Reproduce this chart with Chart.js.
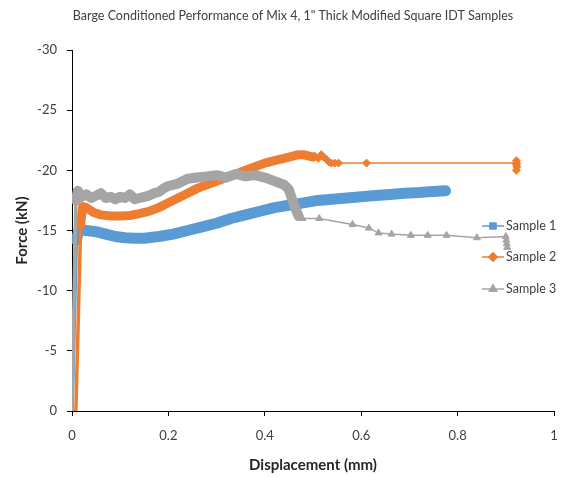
<!DOCTYPE html>
<html>
<head>
<meta charset="utf-8">
<title>Barge Conditioned Performance of Mix 4</title>
<script src="https://cdn.jsdelivr.net/npm/chart.js@4.4.1/dist/chart.umd.min.js"></script>
<style>
  body { margin: 0; background: #fff; }
  canvas { display: block; }
</style>
</head>
<body>
<canvas id="graphCanvas" width="571" height="477"></canvas>
<script>
// chart data (displacement in mm, force in kN)
let chartTitle = 'Barge Conditioned Performance of Mix 4, 1" Thick Modified Square IDT Samples';
let seriesNames = ['Sample 1', 'Sample 2', 'Sample 3'];

let s1X = [0, 0.004, 0.009, 0.015, 0.03, 0.05, 0.07, 0.09, 0.11, 0.13, 0.15, 0.18, 0.21, 0.24, 0.27, 0.3, 0.33, 0.36, 0.39, 0.42, 0.45, 0.48, 0.51, 0.54, 0.57, 0.6, 0.63, 0.66, 0.69, 0.72, 0.75, 0.775];
let s1Y = [0, -6, -14.2, -15.1, -15.0, -14.9, -14.7, -14.5, -14.4, -14.35, -14.35, -14.5, -14.7, -15.0, -15.3, -15.6, -16.0, -16.3, -16.6, -16.9, -17.1, -17.3, -17.5, -17.6, -17.7, -17.8, -17.9, -18.0, -18.1, -18.15, -18.25, -18.3];

let s2BandX = [0.008, 0.012, 0.018, 0.022, 0.03, 0.045, 0.06, 0.08, 0.1, 0.12, 0.14, 0.16, 0.18, 0.2, 0.22, 0.24, 0.26, 0.28, 0.3, 0.32, 0.34, 0.36, 0.38, 0.4, 0.42, 0.44, 0.46, 0.47, 0.48, 0.49, 0.5];
let s2BandY = [0, -6, -15.5, -17.0, -16.9, -16.5, -16.3, -16.2, -16.2, -16.25, -16.4, -16.6, -16.9, -17.3, -17.7, -18.1, -18.5, -18.8, -19.1, -19.4, -19.7, -20.0, -20.3, -20.6, -20.8, -21.0, -21.2, -21.3, -21.3, -21.2, -21.1];
let s2MarkX = [0.503, 0.511, 0.517, 0.522, 0.528, 0.533, 0.538, 0.545, 0.553, 0.611, 0.922, 0.922, 0.923, 0.922, 0.922];
let s2MarkY = [-21.2, -21.0, -21.3, -21.1, -20.9, -20.7, -20.6, -20.6, -20.6, -20.6, -20.6, -20.8, -20.3, -20.0, -20.5];

let s3BandX = [0, 0.004, 0.008, 0.012, 0.02, 0.03, 0.04, 0.05, 0.06, 0.07, 0.08, 0.09, 0.1, 0.11, 0.12, 0.13, 0.14, 0.15, 0.16, 0.17, 0.18, 0.19, 0.2, 0.22, 0.24, 0.26, 0.28, 0.3, 0.32, 0.34, 0.36, 0.38, 0.4, 0.42, 0.44, 0.45, 0.455, 0.462, 0.47];
let s3BandY = [0, -9, -17.5, -18.3, -17.8, -18.0, -17.7, -17.9, -18.1, -17.7, -17.8, -17.6, -17.8, -17.7, -18.0, -17.6, -17.7, -17.8, -17.9, -18.1, -18.2, -18.5, -18.7, -18.9, -19.3, -19.4, -19.5, -19.6, -19.4, -19.7, -19.5, -19.6, -19.4, -19.1, -18.8, -18.4, -17.8, -17.0, -16.2];
let s3MarkX = [0.478, 0.513, 0.582, 0.616, 0.636, 0.663, 0.703, 0.738, 0.777, 0.84, 0.9, 0.901, 0.902, 0.903];
let s3MarkY = [-16.0, -16.0, -15.5, -15.2, -14.8, -14.7, -14.6, -14.6, -14.6, -14.4, -14.5, -14.2, -13.9, -13.6];

let xTicks = [0, 0.2, 0.4, 0.6, 0.8, 1];
let yTicks = [0, -5, -10, -15, -20, -25, -30];

let colors = ['#5B9BD5', '#ED7D31', '#A5A5A5'];
let pointStyles = ['rect', 'rectRot', 'triangle'];

function toPoints(xs, ys) {
  let pts = [];
  for (let i in xs) {
    pts.push({ x: xs[i], y: ys[i] });
  }
  return pts;
}

// band = dense noisy part drawn thick, marks = sparse points with markers
function makeDataset(idx, bandX, bandY, markX, markY, bandWidth) {
  let n = bandX.length;
  return {
    label: seriesNames[idx],
    data: toPoints(bandX.concat(markX), bandY.concat(markY)),
    borderColor: colors[idx],
    backgroundColor: colors[idx],
    pointStyle: pointStyles[idx],
    pointRadius: function(ctx) { return ctx.dataIndex < n ? 0 : 4; },
    pointBorderWidth: 1,
    showLine: true,
    fill: false,
    borderJoinStyle: 'round',
    borderCapStyle: 'round',
    order: 3 - idx,
    segment: {
      borderWidth: function(ctx) {
        if (ctx.p0DataIndex < 2) return 3.5;
        return ctx.p0DataIndex < n - 1 ? bandWidth : 1.5;
      }
    }
  };
}

let chartdata = {
  datasets: [
    makeDataset(0, s1X, s1Y, [], [], 11),
    makeDataset(1, s2BandX, s2BandY, s2MarkX, s2MarkY, 9),
    makeDataset(2, s3BandX, s3BandY, s3MarkX, s3MarkY, 10)
  ]
};

let textFont = 'Lato, "Open Sans", sans-serif';

// title + excel-like legend sitting inside the plot
let excelBits = {
  id: 'excelBits',
  afterDraw: function(chart) {
    let ctx = chart.ctx;
    ctx.save();
    ctx.fillStyle = '#404040';
    ctx.font = '12.5px ' + textFont;
    ctx.textAlign = 'center';
    ctx.textBaseline = 'middle';
    ctx.fillText(chartTitle, 293, 16);

    let legendY = [226, 257, 289];
    chart.data.datasets.forEach(function(ds, i) {
      let y = legendY[i];
      ctx.strokeStyle = colors[i];
      ctx.lineWidth = 1.5;
      ctx.beginPath();
      ctx.moveTo(482, y);
      ctx.lineTo(504, y);
      ctx.stroke();
      Chart.helpers.drawPoint(ctx, {
        pointStyle: pointStyles[i],
        radius: 4,
        borderWidth: 1
      }, 493, y);
      ctx.fillStyle = colors[i];
      Chart.helpers.drawPoint(ctx, { pointStyle: pointStyles[i], radius: 4, borderWidth: 1 }, 493, y);
      ctx.fill();
      ctx.fillStyle = '#404040';
      ctx.font = '12.5px ' + textFont;
      ctx.textAlign = 'left';
      ctx.fillText(ds.label, 506, y);
    });
    ctx.restore();
  }
};

let graphTarget = document.getElementById('graphCanvas');
let lineGraph = new Chart(graphTarget, {
  type: 'scatter',
  data: chartdata,
  options: {
    responsive: false,
    animation: false,
    layout: { padding: { top: 50, right: 17, bottom: 0, left: 0 } },
    plugins: {
      legend: { display: false },
      title: { display: false },
      tooltip: { enabled: false }
    },
    scales: {
      x: {
        type: 'linear',
        min: 0,
        max: 1,
        afterFit: function(scale) { scale.height = 66; },
        afterBuildTicks: function(scale) {
          scale.ticks = xTicks.map(function(v) { return { value: v }; });
        },
        ticks: {
          color: '#404040',
          padding: 12,
          font: { family: textFont, size: 13 },
          callback: function(v) { return String(Math.round(v * 10) / 10); }
        },
        grid: { drawOnChartArea: false, drawTicks: true, tickLength: 5, color: '#000' },
        border: { color: '#000', width: 1 },
        title: {
          display: true,
          text: 'Displacement (mm)',
          color: '#262626',
          font: { family: textFont, size: 15, weight: 'bold' },
          padding: { top: 0, bottom: 3 }
        }
      },
      y: {
        type: 'linear',
        min: -30,
        max: 0,
        reverse: true,
        afterFit: function(scale) { scale.width = 72; },
        afterBuildTicks: function(scale) {
          scale.ticks = yTicks.map(function(v) { return { value: v }; });
        },
        ticks: {
          color: '#404040',
          padding: 10,
          font: { family: textFont, size: 13 }
        },
        grid: { drawOnChartArea: false, drawTicks: true, tickLength: 5, color: '#000' },
        border: { color: '#000', width: 1 },
        title: {
          display: true,
          text: 'Force (kN)',
          color: '#262626',
          font: { family: textFont, size: 15, weight: 'bold' },
          padding: { top: 13, bottom: 0 }
        }
      }
    }
  },
  plugins: [excelBits]
});
</script>
</body>
</html>
